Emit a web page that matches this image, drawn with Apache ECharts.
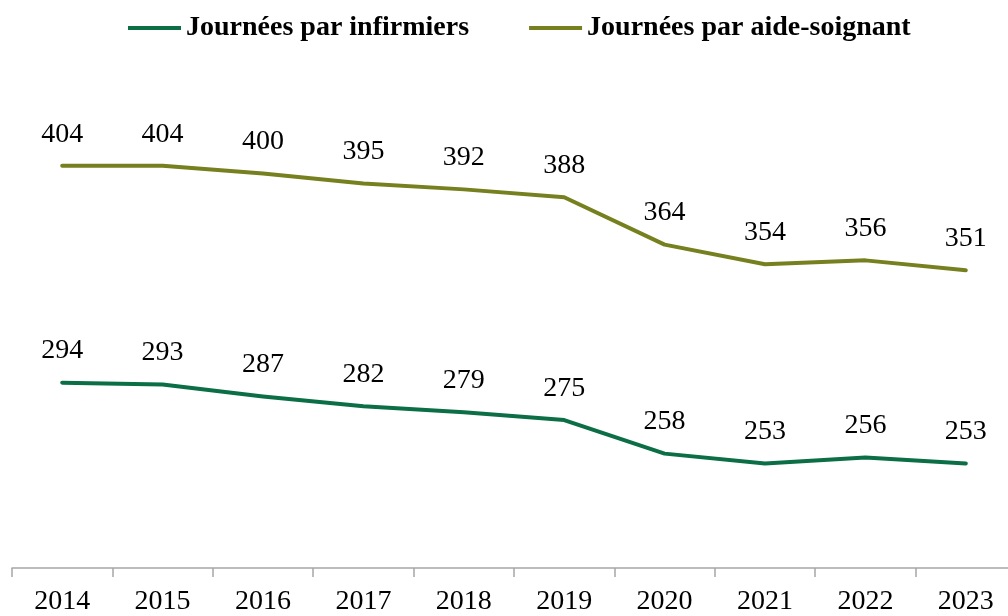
<!DOCTYPE html>
<html><head><meta charset="utf-8">
<script src="https://cdn.jsdelivr.net/npm/echarts@6/dist/echarts.min.js"></script>
<style>html,body{margin:0;padding:0;background:#fff;overflow:hidden;width:1008px;height:616px}#c{width:1016px;height:616px}</style>
</head><body><div id="c"></div>
<script>
const years = ['2014','2015','2016','2017','2018','2019','2020','2021','2022','2023'];
const infirmiers = [294,293,287,282,279,275,258,253,256,253];
const aideSoignant = [404,404,400,395,392,388,364,354,356,351];
const seriesNames = ['Journées par infirmiers','Journées par aide-soignant'];
const colors = ['#0B6E45','#76801F'];
const font = 'Liberation Serif';

const chart = echarts.init(document.getElementById('c'), null, {renderer:'canvas'});
const mk = (name, data, color) => ({
  name, type:'line', data, color,
  symbol:'circle', symbolSize:1, showSymbol:true, itemStyle:{color, opacity:0},
  lineStyle:{width:4, color, cap:'round', join:'round'},
  label:{show:true, position:'top', distance:17, fontFamily:font, fontSize:28, color:'#000', opacity:1},
  emphasis:{disabled:true},
  animation:false
});
chart.setOption({
  animation:false,
  legend:{
    left:123, top:9, icon:'rect', itemWidth:53, itemHeight:4, itemGap:60,
    textStyle:{fontFamily:font, fontSize:28, fontWeight:'bold', color:'#000'},
    data:seriesNames.map((n,i)=>({name:n, itemStyle:{color:colors[i], opacity:1}}))
  },
  grid:{left:12, right:0, top:75, bottom:47, containLabel:false},
  xAxis:{
    type:'category', data:years, boundaryGap:true,
    axisLine:{lineStyle:{color:'#A6A6A6', width:1.5}},
    axisTick:{show:true, length:9, lineStyle:{color:'#A6A6A6', width:1.5}},
    axisLabel:{fontFamily:font, fontSize:28, color:'#000', margin:20}
  },
  yAxis:{type:'value', min:200, max:450, interval:50, show:false, splitLine:{show:false}},
  series:[mk(seriesNames[0], infirmiers, colors[0]), mk(seriesNames[1], aideSoignant, colors[1])]
});
</script></body></html>
